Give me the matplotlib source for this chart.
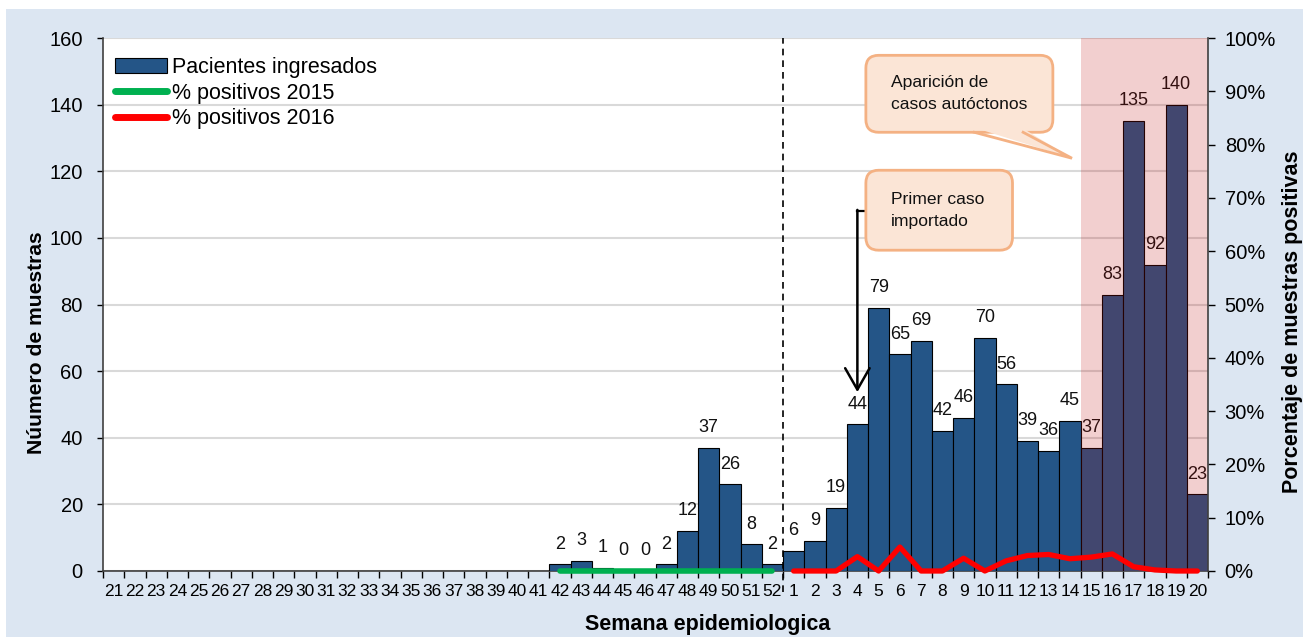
import matplotlib
matplotlib.use("Agg")
import matplotlib.pyplot as plt
from matplotlib.patches import Rectangle, FancyBboxPatch, Polygon, Patch
from matplotlib.lines import Line2D
from matplotlib.ticker import FixedLocator, NullFormatter, FuncFormatter

plt.rcParams["font.family"] = ["Liberation Sans", "DejaVu Sans"]

# --- data -------------------------------------------------------------
semanas = ["21", "22", "23", "24", "25", "26", "27", "28", "29", "30", "31",
           "32", "33", "34", "35", "36", "37", "38", "39", "40", "41", "42",
           "43", "44", "45", "46", "47", "48", "49", "50", "51", "52",
           "1", "2", "3", "4", "5", "6", "7", "8", "9", "10", "11", "12",
           "13", "14", "15", "16", "17", "18", "19", "20"]

pacientes = [None, None, None, None, None, None, None, None, None, None, None,
             None, None, None, None, None, None, None, None, None, None, 2,
             3, 1, 0, 0, 2, 12, 37, 26, 8, 2,
             6, 9, 19, 44, 79, 65, 69, 42, 46, 70, 56, 39,
             36, 45, 37, 83, 135, 92, 140, 23]

semanas_2015 = ["42", "43", "44", "45", "46", "47", "48", "49", "50", "51", "52"]
pct_2015 = [0, 0, 0, 0, 0, 0, 0, 0, 0, 0, 0]

semanas_2016 = ["1", "2", "3", "4", "5", "6", "7", "8", "9", "10",
                "11", "12", "13", "14", "15", "16", "17", "18", "19", "20"]
pct_2016 = [0, 0, 0, 2.7, 0, 4.5, 0, 0, 2.4, 0,
            1.9, 2.9, 3.1, 2.3, 2.6, 3.2, 0.8, 0.2, 0, 0]

BAR = "#245587"
BOX_FILL = "#FBE5D6"
BOX_EDGE = "#F4B183"

# --- figure -----------------------------------------------------------
W, H = 1307, 637
fig = plt.figure(figsize=(W / 100, H / 100), dpi=100)
fig.patches.append(Rectangle((6 / W, 0), 1 - 10 / W, 1 - 9 / H,
                             transform=fig.transFigure, facecolor="#DCE6F2",
                             edgecolor="none", zorder=-10))

ax = fig.add_axes([103 / W, 1 - 571 / H, (1208 - 103) / W, (571 - 38) / H])
ax.set_facecolor("white")

n = len(semanas)
xs = list(range(n))
heights = [0 if v is None else v for v in pacientes]
ax.bar(xs, heights, width=1.0, color=BAR, edgecolor="black", linewidth=0.8,
       zorder=3)
for i, v in enumerate(pacientes):
    if v is None:
        continue
    ax.annotate(str(v), (i, v), xytext=(0, 8.5), textcoords="offset points",
                ha="center", va="bottom", fontsize=13, color="#111111",
                zorder=4)

ax.set_xlim(-0.5, n - 0.5)
ax.set_ylim(0, 160)
ax.set_yticks(range(0, 161, 20))
ax.yaxis.grid(True, color="#D9D9D9", linewidth=1.5, zorder=0)
ax.set_axisbelow(True)

# ticks at category borders, labels at centres
ax.xaxis.set_major_locator(FixedLocator([i - 0.5 for i in range(n + 1)]))
ax.xaxis.set_major_formatter(NullFormatter())
ax.xaxis.set_minor_locator(FixedLocator(xs))
ax.set_xticklabels(semanas, minor=True)
ax.tick_params(axis="x", which="major", length=5, width=1, direction="out")
ax.tick_params(axis="x", which="minor", length=0, pad=9, labelsize=12.5)
ax.tick_params(axis="y", length=4.5, width=1, labelsize=14.5, pad=10)

for s in ["top", "right"]:
    ax.spines[s].set_visible(False)
for s in ["left", "bottom"]:
    ax.spines[s].set_color("#404040")
    ax.spines[s].set_linewidth(1.2)

ax.set_xlabel("Semana epidemiologica", fontsize=15.5, fontweight="bold")
ax.xaxis.set_label_coords(0.547, -0.080)
ax.set_ylabel("Núumero de muestras", fontsize=15.2, fontweight="bold")
ax.yaxis.set_label_coords(-0.0516, 0.428)

# dashed separator between years
ax.axvline(31.5, ymin=-0.04, ymax=1, color="black", linestyle=(0, (4, 3)),
           linewidth=1.2, clip_on=False, zorder=5)

# --- secondary axis -------------------------------------------------------
ax2 = ax.twinx()
ax2.set_ylim(0, 100)
ax2.set_yticks(range(0, 101, 10))
ax2.yaxis.set_major_formatter(FuncFormatter(lambda v, p: f"{int(v)}%"))
ax2.tick_params(axis="y", length=5, width=1, labelsize=14.5, pad=7)
for s in ["top", "left", "bottom"]:
    ax2.spines[s].set_visible(False)
ax2.spines["right"].set_color("#404040")
ax2.spines["right"].set_linewidth(1.2)
ax2.set_ylabel("Porcentaje de muestras positivas", fontsize=15.5,
               fontweight="bold")
ax2.yaxis.set_label_coords(1.067, 0.467)

# shaded period (autochthonous cases)
i15 = semanas.index("15", 32)
ax2.axvspan(i15 - 0.5, n - 0.5, color=(190 / 255, 15 / 255, 15 / 255),
            alpha=0.2, linewidth=0, zorder=1)

x15 = [semanas.index(s) for s in semanas_2015]
x16 = [semanas.index(s, 32) for s in semanas_2016]
ax2.plot(x15, pct_2015, color="#00B050", linewidth=4, solid_capstyle="round",
         zorder=6, clip_on=False)
ax2.plot(x16, pct_2016, color="#FF0000", linewidth=3.8, solid_capstyle="round",
         solid_joinstyle="round", zorder=6, clip_on=False)

# --- legend ---------------------------------------------------------------
handles = [Patch(facecolor=BAR, edgecolor="black", linewidth=0.8),
           Line2D([], [], color="#00B050", linewidth=5, solid_capstyle="round"),
           Line2D([], [], color="#FF0000", linewidth=5, solid_capstyle="round")]
labels = ["Pacientes ingresados", "% positivos 2015", "% positivos 2016"]
leg = ax2.legend(handles, labels, loc="upper left",
                 bbox_to_anchor=(0.0, 0.987), frameon=False, fontsize=15.5,
                 handlelength=2.4, handletextpad=0.25, labelspacing=0.22,
                 borderaxespad=0.15)
leg.set_zorder(10)

# --- callouts --------------------------------------------------------------
asp = (1105 / n) / (533 / 160)


def callout(x0, x1, y0, y1, text):
    box = FancyBboxPatch((x0, y0), x1 - x0, y1 - y0,
                         boxstyle="round,pad=0,rounding_size=0.6",
                         mutation_aspect=asp, facecolor=BOX_FILL,
                         edgecolor=BOX_EDGE, linewidth=2, zorder=7)
    ax.add_patch(box)
    ax.text(x0 + 1.2, (y0 + y1) / 2, text, ha="left", va="center",
            fontsize=12.6, color="#111111", linespacing=1.55, zorder=9)


callout(35.4, 44.2, 131.7, 154.8, "Aparición de\ncasos autóctonos")
tail = Polygon([(40.55, 133.0), (42.75, 133.0), (45.1, 123.9)],
               closed=True, facecolor=BOX_FILL, edgecolor="none", zorder=8)
ax.add_patch(tail)
ax.plot([40.5, 45.1, 42.8], [131.7, 123.9, 131.7], color=BOX_EDGE,
        linewidth=2, zorder=8, solid_joinstyle="miter")

callout(35.4, 42.3, 96.3, 120.3, "Primer caso\nimportado")
ax.plot([35.4, 35.0], [108, 108], color="black", linewidth=1.6, zorder=6)
ax.annotate("", xy=(35.0, 53.7), xytext=(35.0, 108.4),
            arrowprops=dict(arrowstyle="->,head_length=0.7,head_width=0.4",
                            mutation_scale=22, color="black", linewidth=1.8,
                            shrinkA=0, shrinkB=0), zorder=6)

fig.savefig("out.png", dpi=100)
